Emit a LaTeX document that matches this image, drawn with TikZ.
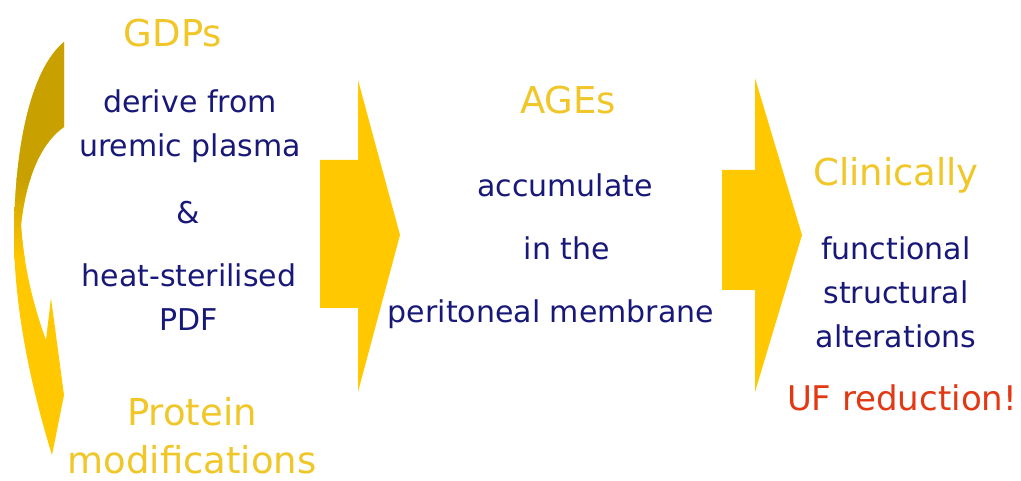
\documentclass[tikz,border=0pt]{standalone}
\usepackage{fontspec}
\setmainfont{DejaVu Sans}
\definecolor{navytext}{RGB}{24,24,120}
\definecolor{goldtext}{RGB}{240,198,40}
\definecolor{redtext}{RGB}{226,56,20}
\definecolor{arrowyellow}{RGB}{255,200,0}
\definecolor{darkgold}{RGB}{200,160,0}
\usetikzlibrary{positioning}

\begin{document}
\begin{tikzpicture}[x=1pt, y=-1pt,
  head/.style={inner sep=0pt, align=center, text=goldtext,
    font=\fontsize{37}{48}\selectfont},
  body/.style={inner sep=0pt, align=center, text=navytext,
    font=\fontsize{30}{44}\selectfont},
  blockarrow/.style={fill=arrowyellow, draw=none},
]
\useasboundingbox (0,0) rectangle (1021,481);

% curved arrow on the left
\def\leftarc{(64,42) -- (64,127) .. controls (45,140) and (27,170) .. (21,225)
  .. controls (24,270) and (35,310) .. (46,340) -- (51,298) -- (64,395)
  -- (52,455) .. controls (35,400) and (15,320) .. (14,240)
  .. controls (14,150) and (30,70) .. (64,42) -- cycle}
\begin{scope}
  \clip \leftarc;
  \fill[arrowyellow] (0,0) rectangle (80,481);
  \fill[darkgold] (0,0) rectangle (80,180);
  \shade[top color=darkgold, bottom color=arrowyellow] (0,179) rectangle (80,260);
\end{scope}

% block arrows
\fill[blockarrow] (320,160) -- (358,160) -- (358,80) -- (400,235)
  -- (358,392) -- (358,308) -- (320,308) -- cycle;
\fill[blockarrow] (722,170) -- (755,170) -- (755,78) -- (802,235)
  -- (755,392) -- (755,290) -- (722,290) -- cycle;

% left column
\node[head] (gdps) at (173,33) {GDPs};
\node[body] (derive) at (190,126) {derive from\\uremic plasma};
\node[body] (amp) at (188,213) {\&};
\node[body] (heat) at (189,297) {heat-sterilised\\PDF};
\node[head] (protein) at (192,436) {Protein\\modifications};

% middle column
\node[head] (ages) at (568,100) {AGEs};
\node[body] (accum) at (565,185) {accumulate};
\node[body] (inthe) at (567,248) {in the};
\node[body] (perit) at (551,314) {peritoneal membrane};

% right column
\node[head] (clin) at (896,175) {Clinically};
\node[body] (func) at (896,292) {functional\\structural\\alterations};
\node[head, text=redtext, font=\fontsize{34}{40}\selectfont] (uf) at (902,398) {UF reduction!};
\end{tikzpicture}
\end{document}
